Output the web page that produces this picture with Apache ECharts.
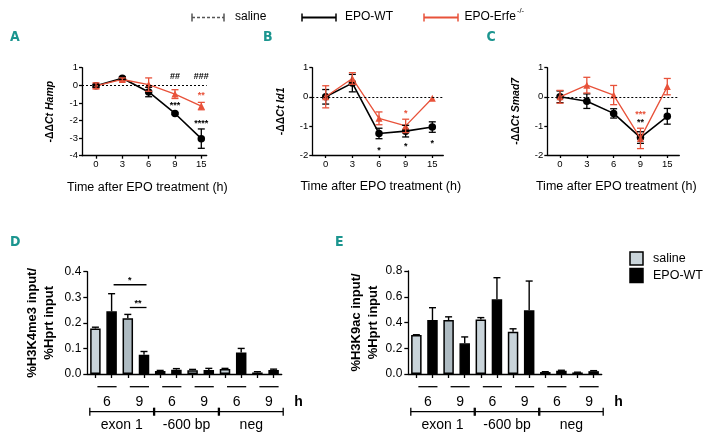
<!DOCTYPE html>
<html><head><meta charset="utf-8">
<script src="https://cdn.jsdelivr.net/npm/echarts@6/dist/echarts.min.js"></script>
<style>html,body{margin:0;padding:0;background:#fff}#c{width:709px;height:436px}</style>
</head><body><div id="c"></div>
<script>
// ---------- data ----------
const timeLabels = ['0', '3', '6', '9', '15'];

// Panel A: Hamp
const hampWT = [-0.03, 0.40, -0.38, -1.60, -3.03];
const hampWTerr = [0.08, 0.08, 0.27, 0.05, 0.55];
const hampKO = [-0.03, 0.33, 0.04, -0.50, -1.18];
const hampKOerr = [0.17, 0.09, 0.38, 0.25, 0.21];
const hampStarsWT = [[3, -1.03, '***'], [4, -2.07, '****']];
const hampStarsKO = [[4, -0.46, '**']];
const hampHash = [[3, 0.49, '##'], [4, 0.49, '###']];

// Panel B: Id1
const id1WT = [0.00, 0.47, -1.26, -1.18, -1.04];
const id1WTerr = [0.25, 0.30, 0.18, 0.20, 0.18];
const id1KO = [0.00, 0.63, -0.74, -1.00, -0.05];
const id1KOerr = [0.38, 0.20, 0.22, 0.23, 0.00];
const id1StarsWT = [[2, -1.77, '*'], [3, -1.63, '*'], [4, -1.52, '*']];
const id1StarsKO = [[3, -0.49, '*']];

// Panel C: Smad7
const smadWT = [0.00, -0.15, -0.57, -1.40, -0.67];
const smadWTerr = [0.20, 0.25, 0.16, 0.20, 0.27];
const smadKO = [0.00, 0.40, 0.06, -1.43, 0.35];
const smadKOerr = [0.22, 0.27, 0.33, 0.35, 0.28];
const smadStarsWT = [[3, -0.80, '**']];
const smadStarsKO = [[3, -0.53, '***']];

// Panels D/E: ChIP (order: exon1 6h, exon1 9h, -600bp 6h, -600bp 9h, neg 6h, neg 9h)
const pairLabels = ['6', '9', '6', '9', '6', '9'];
const regionLabels = ['exon 1', '-600 bp', 'neg'];
const dSaline = [0.178, 0.218, 0.012, 0.015, 0.020, 0.006];
const dSalineErr = [0.005, 0.015, 0.002, 0.003, 0.002, 0.003];
const dEPO = [0.245, 0.075, 0.017, 0.016, 0.084, 0.016];
const dEPOerr = [0.069, 0.013, 0.004, 0.006, 0.016, 0.003];
const dSig = [[1, 3, 0.349, '*'], [2, 3, 0.260, '**']];
const eSaline = [0.302, 0.419, 0.424, 0.329, 0.015, 0.012];
const eSalineErr = [0.003, 0.025, 0.014, 0.022, 0.003, 0.002];
const eEPO = [0.419, 0.238, 0.580, 0.495, 0.025, 0.022];
const eEPOerr = [0.096, 0.050, 0.168, 0.227, 0.004, 0.004];

// ---------- styles ----------
const FF = '"Liberation Sans", Arial, Helvetica, sans-serif';
const NARROW = '"Liberation Sans Narrow", "DejaVu Sans Condensed", "Liberation Sans", sans-serif';
const RED = '#e8523a';
const TEAL = '#1b958f';
const SAL = '#c9d4da';
const SAL_DARK = '#aebbc2';

const grids = [
  {left: 82, top: 67.7, width: 124.7, height: 88},
  {left: 312.3, top: 67.7, width: 131, height: 87.3},
  {left: 547.3, top: 67.7, width: 132, height: 87.3},
  {left: 87.3, top: 271.7, width: 194.4, height: 102.3},
  {left: 408.3, top: 271, width: 193.4, height: 103}
];

const axLine = {show: true, onZero: false, lineStyle: {color: '#000', width: 1.3}};
const axTick = (len) => ({show: true, length: len, lineStyle: {color: '#000', width: 1.3}});

function lineX(gi, min, max) {
  return {
    type: 'value', gridIndex: gi, min: min, max: max, splitLine: {show: false},
    axisLine: axLine,
    axisTick: Object.assign(axTick(3), {customValues: [0, 1, 2, 3, 4]}),
    axisLabel: {customValues: [0, 1, 2, 3, 4], formatter: v => timeLabels[Math.round(v)],
      fontSize: 9.5, color: '#000', margin: 4, fontFamily: FF},
    name: 'Time after EPO treatment (h)', nameLocation: 'middle', nameGap: 25,
    nameTextStyle: {fontSize: 12.5, color: '#000', fontFamily: FF, padding: [0, 0, 0, 6]}
  };
}
function lineY(gi, min, max, gene) {
  return {
    type: 'value', gridIndex: gi, min: min, max: max, interval: 1, splitLine: {show: false},
    axisLine: axLine, axisTick: axTick(3),
    axisLabel: {fontSize: 9.5, color: '#000', margin: 4, fontFamily: FF},
    name: '{a|-ΔΔ}{b|Ct ' + gene + '}', nameLocation: 'middle', nameGap: 26,
    nameTextStyle: {rich: {
      a: {fontSize: 10.5, fontWeight: 'bold', fontFamily: FF, color: '#000'},
      b: {fontSize: 10.5, fontWeight: 'bold', fontStyle: 'italic', fontFamily: FF, color: '#000'}
    }}
  };
}
function barX(gi) {
  return {
    type: 'category', gridIndex: gi, data: [0,1,2,3,4,5,6,7,8,9,10,11].map(String), boundaryGap: true,
    axisLine: axLine, axisTick: Object.assign(axTick(4), {alignWithLabel: true, interval: 0}),
    axisLabel: {show: false}
  };
}
function barY(gi, max, step, name, gap) {
  return {
    type: 'value', gridIndex: gi, min: 0, max: max, interval: step, splitLine: {show: false},
    axisLine: axLine, axisTick: axTick(4),
    axisLabel: {fontSize: 12, color: '#000', margin: 6, fontFamily: FF, formatter: v => v.toFixed(1)},
    name: name, nameLocation: 'middle', nameGap: gap,
    nameTextStyle: {fontSize: 13, fontWeight: 'bold', color: '#000', fontFamily: FF, lineHeight: 17}
  };
}

const zeroLine = {silent: true, symbol: 'none', label: {show: false}, animation: false,
  lineStyle: {type: [2, 2], color: '#000', width: 1}, data: [{yAxis: 0}]};

function lineSeries(gi, vals, ko, withZero) {
  const s = {
    type: 'line', xAxisIndex: gi, yAxisIndex: gi, data: vals.map((v, i) => [i, v]),
    symbol: ko ? 'triangle' : 'circle', symbolSize: ko ? 7 : 7.5,
    lineStyle: {color: ko ? RED : '#000', width: ko ? 1.3 : 1.6},
    itemStyle: {color: ko ? RED : '#000'}, z: ko ? 4 : 3, silent: true
  };
  if (withZero) s.markLine = zeroLine;
  return s;
}
function errSeries(gi, vals, errs, color, both, cap) {
  return {
    type: 'custom', xAxisIndex: gi, yAxisIndex: gi, silent: true, z: 5,
    data: vals.map((v, i) => [i, v, errs[i]]),
    renderItem: (params, api) => {
      const x = api.value(0), y = api.value(1), e = api.value(2);
      if (!(e > 0)) return null;
      const top = api.coord([x, y + e]);
      const bot = api.coord([x, both ? y - e : y]);
      const st = {stroke: color, lineWidth: 1.3};
      const ch = [{type: 'line', shape: {x1: top[0], y1: top[1], x2: bot[0], y2: bot[1]}, style: st},
        {type: 'line', shape: {x1: top[0] - cap / 2, y1: top[1], x2: top[0] + cap / 2, y2: top[1]}, style: st}];
      if (both) ch.push({type: 'line', shape: {x1: bot[0] - cap / 2, y1: bot[1], x2: bot[0] + cap / 2, y2: bot[1]}, style: st});
      return {type: 'group', children: ch};
    }
  };
}
function textSeries(gi, arr, color) {
  return {
    type: 'custom', xAxisIndex: gi, yAxisIndex: gi, silent: true, z: 6,
    data: arr.map(d => [d[0], d[1]]),
    renderItem: (params, api) => {
      const p = api.coord([api.value(0), api.value(1)]);
      const t = arr[params.dataIndex][2];
      const dy = t.indexOf('*') >= 0 ? 2 : 0;
      return {type: 'text', x: p[0], y: p[1] + dy, style: {text: t, fill: color, fontSize: 9, fontWeight: 'bold',
        fontFamily: FF, align: 'center', verticalAlign: 'middle'}};
    }
  };
}
function place(vals, off) {
  const out = new Array(12).fill('-');
  vals.forEach((v, i) => { out[2 * i + off] = v; });
  return out;
}
function barSeries(gi, sal, salErr, epo, epoErr) {
  const salData = place(sal, 0).map((v, i) => v === '-' ? v :
    {value: v, itemStyle: {color: i === 2 ? SAL_DARK : SAL}});
  const salErrIdx = sal.map((v, i) => [2 * i, v, salErr[i]]);
  const epoErrIdx = epo.map((v, i) => [2 * i + 1, v, epoErr[i]]);
  const errS = (arr) => ({
    type: 'custom', xAxisIndex: gi, yAxisIndex: gi, silent: true, z: 5, data: arr,
    renderItem: (params, api) => {
      const x = api.value(0), y = api.value(1), e = api.value(2);
      const top = api.coord([x, y + e]), bot = api.coord([x, y]);
      const st = {stroke: '#000', lineWidth: 1.4};
      return {type: 'group', children: [
        {type: 'line', shape: {x1: top[0], y1: top[1], x2: bot[0], y2: bot[1]}, style: st},
        {type: 'line', shape: {x1: top[0] - 3.5, y1: top[1], x2: top[0] + 3.5, y2: top[1]}, style: st}]};
    }
  });
  return [
    {type: 'bar', name: 'saline', xAxisIndex: gi, yAxisIndex: gi, data: salData, barWidth: 10.5, barGap: '-100%',
      itemStyle: {color: SAL, borderColor: '#000', borderWidth: 1.5}, silent: true, z: 2},
    {type: 'bar', name: 'EPO-WT', xAxisIndex: gi, yAxisIndex: gi, data: place(epo, 1), barWidth: 10.5, barGap: '-100%',
      itemStyle: {color: '#000', borderColor: '#000', borderWidth: 1.5}, silent: true, z: 2},
    errS(salErrIdx), errS(epoErrIdx),
    // pair labels (6 / 9) with short lines, and "h"
    {type: 'custom', xAxisIndex: gi, yAxisIndex: gi, silent: true, z: 6,
      data: pairLabels.map((l, i) => [2 * i, 0]),
      renderItem: (params, api) => {
        const i = params.dataIndex;
        const a = api.coord([2 * i, 0]), b = api.coord([2 * i + 1, 0]);
        const y0 = a[1];
        const ch = [
          {type: 'line', shape: {x1: a[0] + 2, y1: y0 + 12.7, x2: b[0] + 5, y2: y0 + 12.7}, style: {stroke: '#000', lineWidth: 1.3}},
          {type: 'text', x: (a[0] + b[0]) / 2 + 3.5, y: y0 + 27.7, style: {text: pairLabels[i], fill: '#000', fontSize: 14,
            fontFamily: FF, align: 'center', verticalAlign: 'middle'}}
        ];
        if (i === pairLabels.length - 1) ch.push({type: 'text', x: b[0] + 25, y: y0 + 27.7,
          style: {text: 'h', fill: '#000', fontSize: 14, fontWeight: 'bold', fontFamily: FF, align: 'center', verticalAlign: 'middle'}});
        return {type: 'group', children: ch};
      }},
    // region brackets
    {type: 'custom', xAxisIndex: gi, yAxisIndex: gi, silent: true, z: 6,
      data: regionLabels.map((l, j) => [4 * j, 0]),
      renderItem: (params, api) => {
        const j = params.dataIndex;
        const c0 = api.coord([4 * j, 0]), c1 = api.coord([4 * j + 1, 0]), c3 = api.coord([4 * j + 3, 0]);
        const bw = c1[0] - c0[0];
        const a = c0[0] - bw / 2 + 2.5, b = c3[0] + bw / 2 + 1.5, y = c0[1] + 37.7;
        const st = {stroke: '#000', lineWidth: 1.3};
        return {type: 'group', children: [
          {type: 'line', shape: {x1: a, y1: y, x2: b, y2: y}, style: st},
          {type: 'line', shape: {x1: a, y1: y - 4, x2: a, y2: y + 4}, style: st},
          {type: 'line', shape: {x1: b, y1: y - 4, x2: b, y2: y + 4}, style: st},
          {type: 'text', x: (a + b) / 2, y: c0[1] + 51, style: {text: regionLabels[j], fill: '#000', fontSize: 14,
            fontFamily: FF, align: 'center', verticalAlign: 'middle'}}
        ]};
      }}
  ];
}
function sigSeries(gi, arr) {
  return {type: 'custom', xAxisIndex: gi, yAxisIndex: gi, silent: true, z: 6,
    data: arr.map(d => [d[0], d[2]]),
    renderItem: (params, api) => {
      const d = arr[params.dataIndex];
      const a = api.coord([d[0], d[2]]), b = api.coord([d[1], d[2]]);
      return {type: 'group', children: [
        {type: 'line', shape: {x1: a[0] + 2, y1: a[1], x2: b[0] + 2.5, y2: b[1]}, style: {stroke: '#000', lineWidth: 1.3}},
        {type: 'text', x: (a[0] + b[0]) / 2 + 2, y: a[1] - 4, style: {text: d[3], fill: '#000', fontSize: 9, fontWeight: 'bold',
          fontFamily: FF, align: 'center', verticalAlign: 'middle'}}
      ]};
    }};
}

const series = [
  lineSeries(0, hampWT, false, true), lineSeries(0, hampKO, true, false),
  errSeries(0, hampWT, hampWTerr, '#000', true, 7), errSeries(0, hampKO, hampKOerr, RED, true, 7),
  textSeries(0, hampStarsWT, '#000'), textSeries(0, hampStarsKO, RED), textSeries(0, hampHash, '#000'),
  lineSeries(1, id1WT, false, true), lineSeries(1, id1KO, true, false),
  errSeries(1, id1WT, id1WTerr, '#000', true, 7), errSeries(1, id1KO, id1KOerr, RED, true, 7),
  textSeries(1, id1StarsWT, '#000'), textSeries(1, id1StarsKO, RED),
  lineSeries(2, smadWT, false, true), lineSeries(2, smadKO, true, false),
  errSeries(2, smadWT, smadWTerr, '#000', true, 7), errSeries(2, smadKO, smadKOerr, RED, true, 7),
  textSeries(2, smadStarsWT, '#000'), textSeries(2, smadStarsKO, RED),
  ...barSeries(3, dSaline, dSalineErr, dEPO, dEPOerr),
  sigSeries(3, dSig),
  ...barSeries(4, eSaline, eSalineErr, eEPO, eEPOerr)
];

function panelLetter(t, x, y) {
  return {type: 'text', left: x, top: y, style: {text: t, fill: TEAL, fontSize: 14, fontWeight: 'bold', fontFamily: NARROW}};
}
function capLine(x1, x2, y, color, width, dash) {
  return [
    {type: 'line', shape: {x1: x1, y1: y, x2: x2, y2: y}, style: {stroke: color, lineWidth: width, lineDash: dash || null}},
    {type: 'line', shape: {x1: x1, y1: y - 4, x2: x1, y2: y + 4}, style: {stroke: color, lineWidth: 1.5}},
    {type: 'line', shape: {x1: x2, y1: y - 4, x2: x2, y2: y + 4}, style: {stroke: color, lineWidth: 1.5}}
  ];
}
const legTxt = (t, x, y, size) => ({type: 'text', x: x, y: y, style: {text: t, fill: '#000', fontSize: size || 12,
  fontFamily: FF, verticalAlign: 'middle'}});

const graphic = [
  panelLetter('A', 10, 30), panelLetter('B', 263, 30), panelLetter('C', 486.5, 30),
  panelLetter('D', 10, 235), panelLetter('E', 335, 235),
  ...capLine(192, 224, 17.5, '#555', 1.3, [3, 2]), legTxt('saline', 235, 17),
  ...capLine(302, 336, 17.5, '#000', 2), legTxt('EPO-WT', 345, 17),
  ...capLine(424, 458, 17.5, RED, 2), legTxt('EPO-Erfe', 464.5, 17),
  {type: 'text', x: 517, y: 11, style: {text: '-/-', fill: '#000', fontSize: 7.5, fontFamily: FF, verticalAlign: 'middle'}},
  {type: 'rect', shape: {x: 630, y: 252, width: 13, height: 13}, style: {fill: SAL, stroke: '#000', lineWidth: 1.5}},
  {type: 'rect', shape: {x: 630, y: 268.5, width: 13, height: 14}, style: {fill: '#000', stroke: '#000', lineWidth: 1.5}},
  legTxt('saline', 653, 258.5, 12.5), legTxt('EPO-WT', 653, 276, 12.5)
];

const option = {
  animation: false,
  backgroundColor: '#fff',
  textStyle: {fontFamily: FF},
  grid: grids,
  xAxis: [lineX(0, -0.532, 4.205), lineX(1, -0.503, 4.413), lineX(2, -0.474, 4.448), barX(3), barX(4)],
  yAxis: [lineY(0, -4, 1, 'Hamp'), lineY(1, -2, 1, 'Id1'), lineY(2, -2, 1, 'Smad7'),
    barY(3, 0.4, 0.1, '%H3K4me3 input/\n%Hprt input', 29), barY(4, 0.8, 0.2, '%H3K9ac input/\n%Hprt input', 26)],
  series: series,
  graphic: graphic
};
const chart = echarts.init(document.getElementById('c'), null, {renderer: 'canvas'});
chart.setOption(option);
</script></body></html>
